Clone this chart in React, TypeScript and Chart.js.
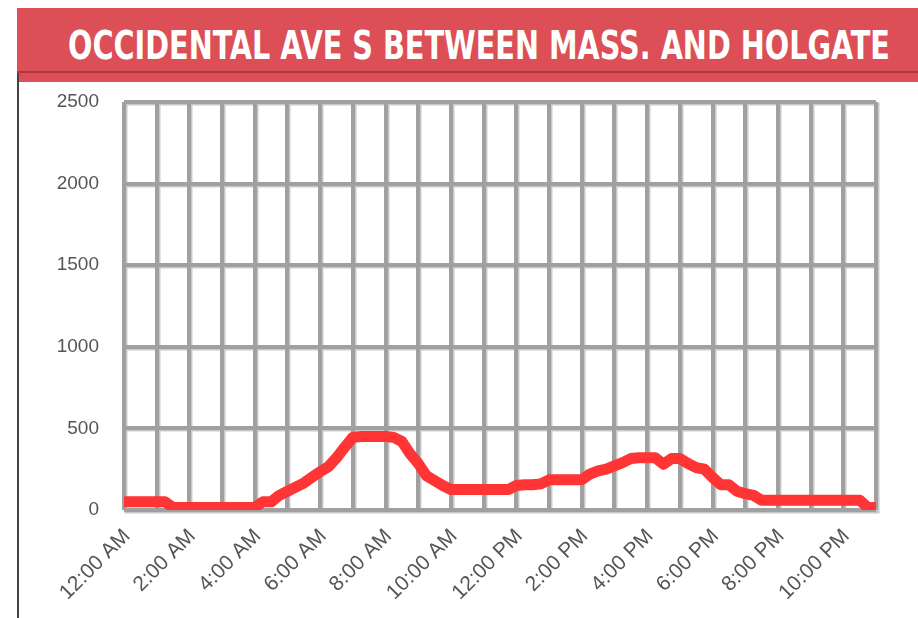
import React, { useEffect, useLayoutEffect, useRef } from "react";
import { Chart, registerables } from "chart.js";

Chart.register(...registerables);

const TITLE = "OCCIDENTAL AVE S BETWEEN MASS. AND HOLGATE";

// Traffic volume counts, one reading every 15 minutes from 12:00 AM to 11:00 PM.
const SAMPLE_MINUTES = 15;
const VOLUMES = [
  50, 50, 50, 50, 50, 50, 15, 15, 15, 15, 15, 15, 15, 15, 15, 15, 15,
  50, 50, 90, 115, 140, 165, 200, 235, 265, 320, 385, 445, 450, 450, 450,
  450, 445, 420, 345, 285, 210, 180, 150, 125,
  125, 125, 125, 125, 125, 125, 125,
  150, 155, 155, 160, 185,
  185, 185, 185, 185,
  220, 240, 250, 270, 290, 315, 320, 320, 320, 280, 315, 315, 285, 260,
  250, 200, 155, 155, 115, 100, 90, 60,
  60, 60, 60, 60, 60, 60, 60, 60, 60, 60, 60, 60,
  15, 15,
];

// One label per hour; only every other hour is printed.
const HOUR_LABELS = [
  "12:00 AM", "", "2:00 AM", "", "4:00 AM", "", "6:00 AM", "", "8:00 AM", "",
  "10:00 AM", "", "12:00 PM", "", "2:00 PM", "", "4:00 PM", "", "6:00 PM", "",
  "8:00 PM", "", "10:00 PM", "",
];

const Y_TICKS = [0, 500, 1000, 1500, 2000, 2500];

const GRID_COLOR = "#a0a0a0";
const GRID_SHADOW = "#c9c9c9";
const LINE_COLOR = "#ff3434";
const LABEL_COLOR = "#555555";
const BANNER_COLOR = "#dc4f57";

const CANVAS_W = 899;
const CANVAS_H = 536;
const PLOT_TOP = 20;
const PLOT_HEIGHT = 408;

// Light strip along the lower/right side of each grid line, drawn before the scales.
const gridShadow = {
  id: "gridShadow",
  beforeDraw(chart: any) {
    const { ctx, chartArea, scales } = chart;
    const xs = scales.x;
    const ys = scales.y;
    ctx.save();
    ctx.strokeStyle = GRID_SHADOW;
    ctx.lineWidth = 3;
    ctx.beginPath();
    for (const t of xs.ticks) {
      const px = Math.round(xs.getPixelForValue(t.value)) + 2;
      ctx.moveTo(px, chartArea.top + 2);
      ctx.lineTo(px, chartArea.bottom + 3.5);
    }
    for (const t of ys.ticks) {
      const py = Math.round(ys.getPixelForValue(t.value)) + 2;
      ctx.moveTo(chartArea.left + 2, py);
      ctx.lineTo(chartArea.right + 3.5, py);
    }
    ctx.stroke();
    ctx.restore();
  },
};

function TrafficChart() {
  const canvasRef = useRef<HTMLCanvasElement | null>(null);

  useEffect(() => {
    const canvas = canvasRef.current;
    if (!canvas) return;
    const points = VOLUMES.map((v, i) => ({ x: (i * SAMPLE_MINUTES) / 60, y: v }));
    const chart = new Chart(canvas, {
      type: "line",
      data: {
        datasets: [
          {
            data: points,
            borderColor: LINE_COLOR,
            backgroundColor: LINE_COLOR,
            borderWidth: 11,
            borderCapStyle: "round",
            borderJoinStyle: "round",
            pointRadius: 0,
            tension: 0,
            fill: false,
          },
        ],
      },
      plugins: [gridShadow],
      options: {
        responsive: false,
        animation: false,
        layout: { padding: { top: 0, right: 42, left: 0, bottom: 0 } },
        plugins: { legend: { display: false }, tooltip: { enabled: false }, title: { display: false } },
        scales: {
          x: {
            type: "linear",
            min: 0,
            max: HOUR_LABELS.length - 1,
            afterFit: (scale: any) => {
              scale.height = CANVAS_H - PLOT_TOP - PLOT_HEIGHT;
            },
            afterBuildTicks: (scale: any) => {
              scale.ticks = HOUR_LABELS.map((_, i) => ({ value: i }));
            },
            border: { display: false },
            grid: { color: GRID_COLOR, lineWidth: 4, drawTicks: false },
            ticks: {
              autoSkip: false,
              minRotation: 45,
              maxRotation: 45,
              padding: 14,
              labelOffset: 3,
              color: LABEL_COLOR,
              font: { family: "'Liberation Sans', Arial, sans-serif", size: 21 },
              callback: (value: any) => HOUR_LABELS[Math.round(Number(value))] ?? "",
            },
          },
          y: {
            type: "linear",
            min: Y_TICKS[0],
            max: Y_TICKS[Y_TICKS.length - 1],
            afterFit: (scale: any) => {
              scale.width = 105;
              scale.paddingTop = PLOT_TOP;
              scale.paddingBottom = 0;
            },
            afterBuildTicks: (scale: any) => {
              scale.ticks = Y_TICKS.map((v) => ({ value: v }));
            },
            border: { display: false },
            grid: { color: GRID_COLOR, lineWidth: 4, drawTicks: false },
            ticks: {
              padding: 25,
              color: LABEL_COLOR,
              font: { family: "'Liberation Sans', Arial, sans-serif", size: 19 },
              callback: (value: any) => String(value),
            },
          },
        },
      },
    });
    return () => chart.destroy();
  }, []);

  return <canvas ref={canvasRef} width={CANVAS_W} height={CANVAS_H} style={{ display: "block" }} />;
}

function Title() {
  const ref = useRef<HTMLSpanElement | null>(null);
  useLayoutEffect(() => {
    const el = ref.current;
    if (!el) return;
    el.style.transform = "none";
    const w = el.getBoundingClientRect().width;
    if (w > 0) el.style.transform = `scaleX(${822 / w})`;
  }, []);
  return (
    <span
      ref={ref}
      style={{
        position: "absolute",
        left: 68,
        top: 26,
        whiteSpace: "nowrap",
        color: "#ffffff",
        fontFamily: "'Liberation Sans Narrow', 'DejaVu Sans Condensed', 'Liberation Sans', sans-serif",
        fontWeight: 700,
        fontSize: 39,
        lineHeight: "39px",
        transformOrigin: "0 0",
        letterSpacing: 0,
      }}
    >
      {TITLE}
    </span>
  );
}

export default function App() {
  return (
    <div
      style={{
        position: "absolute",
        left: 0,
        top: 0,
        width: 918,
        height: 618,
        overflow: "hidden",
        background: "#ffffff",
      }}
    >
      <div style={{ position: "absolute", left: 17, top: 8, width: 901, height: 63, background: BANNER_COLOR }} />
      <div style={{ position: "absolute", left: 17, top: 71, width: 901, height: 2, background: "#b3363d" }} />
      <div style={{ position: "absolute", left: 19, top: 73, width: 899, height: 9, background: BANNER_COLOR }} />
      <div style={{ position: "absolute", left: 17, top: 73, width: 2, height: 545, background: "#444444" }} />
      <Title />
      <div style={{ position: "absolute", left: 19, top: 82, width: CANVAS_W, height: CANVAS_H }}>
        <TrafficChart />
      </div>
    </div>
  );
}
